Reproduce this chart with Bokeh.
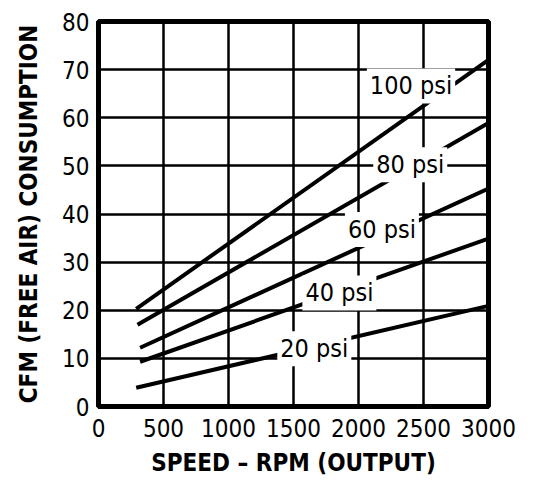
from bokeh.plotting import figure
from bokeh.models import Range1d, FixedTicker, Label
from bokeh.embed import file_html
from bokeh.resources import INLINE

# ---- data ----
x_ticks = [0, 500, 1000, 1500, 2000, 2500, 3000]
y_ticks = [0, 10, 20, 30, 40, 50, 60, 70, 80]

series_names = ["20 psi", "40 psi", "60 psi", "80 psi", "100 psi"]
rpm_20 = [290, 3000]
cfm_20 = [3.9, 20.9]
rpm_40 = [320, 3000]
cfm_40 = [9.3, 34.9]
rpm_60 = [320, 3000]
cfm_60 = [12.2, 45.3]
rpm_80 = [300, 3000]
cfm_80 = [17.0, 58.9]
rpm_100 = [290, 3000]
cfm_100 = [20.3, 72.0]

label_rpm = [1660, 1853, 2180, 2398, 2404]
label_cfm = [12.0, 23.6, 36.8, 50.25, 66.6]

FONT = "DejaVu Sans Condensed, Liberation Sans Narrow, Roboto Condensed, Roboto"

p = figure(width=517, height=482,
           x_range=Range1d(0, 3000), y_range=Range1d(0, 80),
           output_backend="svg", toolbar_location=None,
           min_border_left=98, min_border_right=29,
           min_border_top=21, min_border_bottom=76)

p.background_fill_color = "white"
p.border_fill_color = "white"
p.outline_line_color = "black"
p.outline_line_width = 5

for ax in (p.xaxis, p.yaxis):
    ax.axis_line_width = 5
    ax.axis_line_color = "black"
    ax.major_tick_in = 0
    ax.major_tick_out = 0
    ax.minor_tick_in = 0
    ax.minor_tick_out = 0
    ax.major_label_text_font = FONT
    ax.major_label_text_font_size = "24px"
    ax.major_label_text_color = "black"
    ax.axis_label_text_font = FONT
    ax.axis_label_text_font_size = "24px"
    ax.axis_label_text_font_style = "bold"
    ax.axis_label_text_color = "black"

p.xaxis.ticker = FixedTicker(ticks=x_ticks)
p.yaxis.ticker = FixedTicker(ticks=y_ticks)
p.xaxis.axis_label = "SPEED – RPM (OUTPUT)"
p.yaxis.axis_label = "CFM (FREE AIR) CONSUMPTION"
p.xaxis.major_label_standoff = 12
p.xaxis.axis_label_standoff = 9
p.yaxis.major_label_standoff = 9
p.yaxis.axis_label_standoff = 16

for g in (p.xgrid, p.ygrid):
    g.grid_line_color = "black"
    g.grid_line_width = 2.5
    g.grid_line_alpha = 1.0
p.xgrid.ticker = FixedTicker(ticks=x_ticks)
p.ygrid.ticker = FixedTicker(ticks=y_ticks)

for xs, ys in [(rpm_20, cfm_20), (rpm_40, cfm_40), (rpm_60, cfm_60),
               (rpm_80, cfm_80), (rpm_100, cfm_100)]:
    p.line(xs, ys, line_color="black", line_width=4)

for name, lx, ly in zip(series_names, label_rpm, label_cfm):
    p.add_layout(Label(x=lx, y=ly, text=name, text_align="center",
                       text_baseline="middle", text_font=FONT,
                       text_font_size="25px", text_color="black",
                       background_fill_color="white", padding=3))

open("out.html", "w").write(file_html(p, INLINE))
